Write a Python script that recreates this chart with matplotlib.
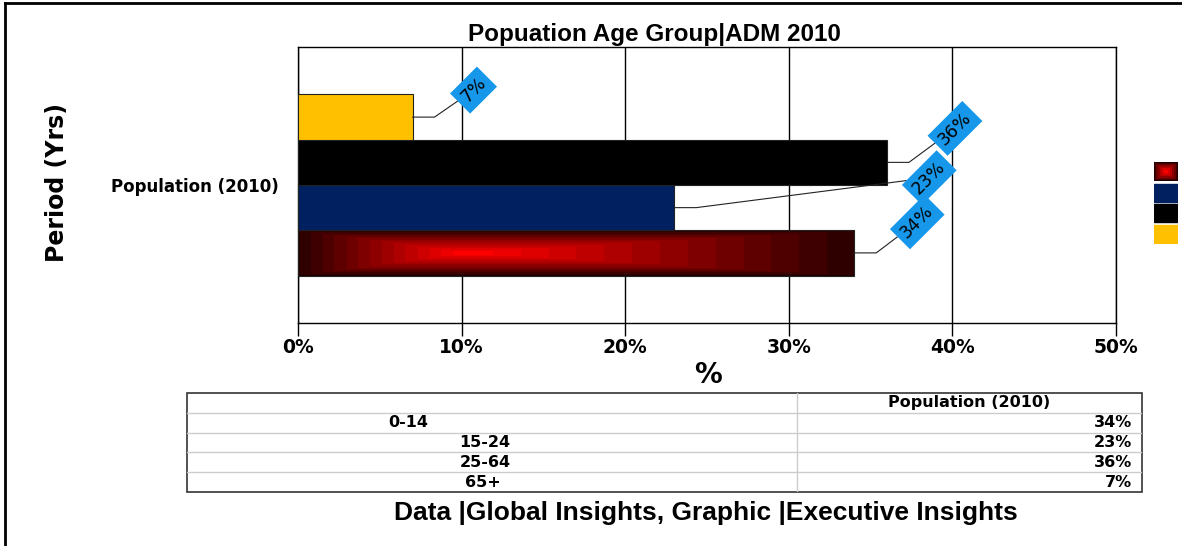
import numpy as np
import matplotlib
matplotlib.use("Agg")
import matplotlib.pyplot as plt
from matplotlib.patches import Rectangle
from matplotlib.lines import Line2D

# Age-group shares of the 2010 population
age_groups = ["0-14", "15-24", "25-64", "65+"]
shares = [34, 23, 36, 7]
period = "Population (2010)"
bar_colors = ["gradient", "#002060", "#000000", "#FFC000"]
x_ticks = [0, 10, 20, 30, 40, 50]

# Where each callout box sits relative to its bar end (pixels)
label_offsets = [(63, 31), (255, 30), (68, 34), (61, 27)]

BOX_BLUE = "#1797EA"
VERDANA_LIKE = "DejaVu Sans"
ARIAL_LIKE = "Liberation Sans"


def red_glow(nx, ny, cx=0.5, steps=14):
    # Rectangular red glow, bright at (cx, 0.5) and dark toward the edges.
    u = np.linspace(0, 1, nx)
    w = np.linspace(0, 1, ny)
    U, W = np.meshgrid(u, w)
    du = np.where(U < cx, (cx - U) / cx, (U - cx) / (1 - cx))
    dw = np.abs(W - 0.5) / 0.5
    d = np.maximum(du, dw)
    d = np.floor(d * steps) / steps
    img = np.zeros((ny, nx, 3))
    img[..., 0] = (255 * (1 - d) + 30 * d) / 255
    return img


fig = plt.figure(figsize=(11.82, 5.46), dpi=100)
ax = fig.add_axes([298 / 1182, 1 - 323 / 546, 818 / 1182, 276 / 546])

bar_h = 0.164
offsets = (np.arange(len(shares)) - 1.5) * bar_h
bars = ax.barh(offsets, shares, height=bar_h, color="none",
               edgecolor="#222222", linewidth=0.8, zorder=3)

for bar, col in zip(bars, bar_colors):
    if col == "gradient":
        x0, y0 = bar.get_x(), bar.get_y()
        img = red_glow(400, 60, cx=0.30)
        im = ax.imshow(img, extent=(x0, x0 + bar.get_width(), y0, y0 + bar.get_height()),
                       aspect="auto", zorder=2.5, interpolation="nearest")
        im.set_clip_path(bar)
    else:
        bar.set_facecolor(col)

# Value callouts with leader lines
for bar, val, (dx, dy) in zip(bars, shares, label_offsets):
    yc = bar.get_y() + bar.get_height() / 2
    corner = 22
    ang = np.degrees(np.arctan2(dy, dx - corner))
    ax.annotate(f"{val}%", xy=(val, yc), xytext=(dx, dy), textcoords="offset pixels",
                rotation=45, ha="center", va="center", fontsize=12.5,
                family=VERDANA_LIKE, color="black", zorder=5,
                bbox=dict(boxstyle="square,pad=0.3", fc=BOX_BLUE, ec="none"),
                arrowprops=dict(arrowstyle="-", color="#222222", lw=0.8,
                                shrinkA=0, shrinkB=0,
                                connectionstyle=f"angle,angleA={ang},angleB=0,rad=0"))

ax.set_xlim(0, 50)
ax.set_ylim(-0.5, 0.5)
ax.set_xticks(x_ticks)
ax.set_xticklabels([f"{t}%" for t in x_ticks], fontsize=13.5, fontweight="bold",
                   family=VERDANA_LIKE)
ax.set_yticks([0])
ax.set_yticklabels([period], fontsize=12, fontweight="bold", family=VERDANA_LIKE)
ax.tick_params(axis="x", length=9, width=1, pad=2, direction="out")
ax.tick_params(axis="y", length=0, pad=14)
ax.grid(axis="x", color="black", linewidth=1, zorder=1)
ax.set_axisbelow(True)
for sp in ax.spines.values():
    sp.set_color("black")
    sp.set_linewidth(1)

fig.text(654 / 1182, 1 - 35 / 546, "Popuation Age Group|ADM 2010", ha="center",
         va="center", fontsize=17.5, fontweight="bold", family=ARIAL_LIKE)
fig.text(708 / 1182, 1 - 375 / 546, "%", ha="center", va="center", fontsize=20,
         fontweight="bold", family=VERDANA_LIKE)
fig.text(57 / 1182, 1 - 183 / 546, "Period (Yrs)", ha="center", va="center",
         rotation=90, fontsize=17, fontweight="bold", family=VERDANA_LIKE)

# Colour key on the right, top to bottom: 0-14, 15-24, 25-64, 65+
key = fig.add_axes([1154 / 1182, 1 - 244 / 546, 24 / 1182, 82 / 546])
key.set_xlim(0, 1)
key.set_ylim(0, 4)
key.axis("off")
for i, col in enumerate(bar_colors):
    y0 = 3 - i + 0.05
    if col == "gradient":
        key.imshow(red_glow(24, 18, cx=0.5, steps=6), extent=(0, 1, y0, y0 + 0.9),
                   aspect="auto", interpolation="nearest")
    else:
        key.add_patch(Rectangle((0, y0), 1, 0.9, color=col))
key.set_xlim(0, 1)
key.set_ylim(0, 4)

# Data table under the chart
tab = fig.add_axes([187 / 1182, 1 - 492 / 546, 955 / 1182, 99 / 546])
tab.set_xlim(0, 1)
tab.set_ylim(0, 5)
tab.axis("off")
split = (797 - 187) / 955
for r in range(1, 5):
    tab.add_line(Line2D([0, 1], [r, r], color="#cccccc", lw=1))
tab.add_line(Line2D([split, split], [0, 5], color="#cccccc", lw=1))
tab.add_patch(Rectangle((0, 0), 1, 5, fill=False, ec="#333333", lw=1.2, clip_on=False))
cell_font = dict(fontsize=11.5, fontweight="bold", family=VERDANA_LIKE, va="center")
tab.text((split + 1) / 2, 4.5, period, ha="center", **cell_font)
label_x = [0.2314, 0.312, 0.312, 0.310]
for i, (grp, val) in enumerate(zip(age_groups, shares)):
    yc = 3.5 - i
    tab.text(label_x[i], yc, grp, ha="center", **cell_font)
    tab.text(0.9895, yc, f"{val}%", ha="right", **cell_font)

fig.text(706 / 1182, 1 - 513 / 546, "Data |Global Insights, Graphic |Executive Insights",
         ha="center", va="center", fontsize=19, fontweight="bold", family=ARIAL_LIKE)

# Frame lines along the left and top edges
fig.add_artist(Line2D([4.5 / 1182, 4.5 / 1182], [0, 1 - 3 / 546], color="black", lw=2))
fig.add_artist(Line2D([4.5 / 1182, 1], [1 - 3 / 546, 1 - 3 / 546], color="black", lw=2))

fig.savefig("out.png", dpi=100)
